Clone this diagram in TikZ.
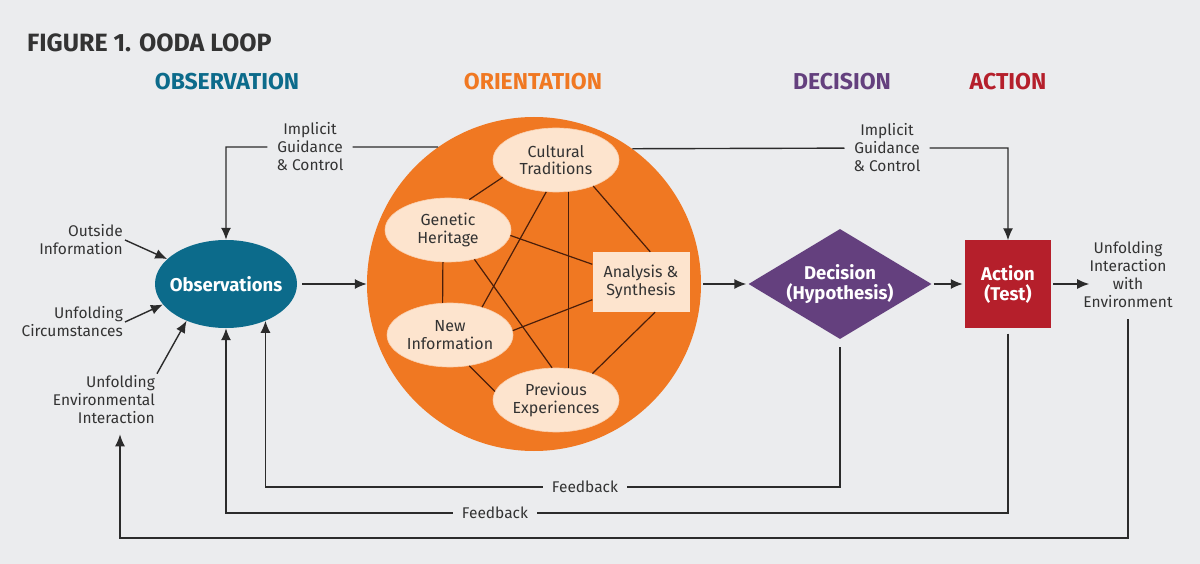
\documentclass[tikz,border=0pt]{standalone}
\usepackage{fontspec}
\setmainfont{Fira Sans}
\usetikzlibrary{shapes,arrows,positioning,calc,arrows.meta}

\definecolor{bggray}{HTML}{EBECEE}
\definecolor{txtgray}{HTML}{333333}
\definecolor{linegray}{HTML}{2B2B2B}
\definecolor{obsteal}{HTML}{0C6B8B}
\definecolor{ortorange}{HTML}{F07822}
\definecolor{peach}{HTML}{FDE4CE}
\definecolor{linkbrown}{HTML}{4A1E0A}
\definecolor{decpurple}{HTML}{64407E}
\definecolor{actred}{HTML}{B51F2B}

\begin{document}
\begin{tikzpicture}[x=1pt, y=-1pt,
    lbl/.style={align=center, text=txtgray, inner sep=2pt, font=\fontsize{15.5}{18}\selectfont},
    arr/.style={draw=linegray, line width=1.4pt, -{Latex[length=12pt,width=10pt]}},
    idea/.style={ellipse, fill=peach, draw=peach!80!ortorange, line width=0.6pt, minimum width=126pt, minimum height=64pt, inner sep=0pt, align=center, text=txtgray, font=\fontsize{16}{17.5}\selectfont},
    link/.style={draw=linkbrown, line width=1.2pt},
    head/.style={font=\fontsize{23}{23}\selectfont\bfseries, inner sep=0pt},
    keynode/.style={align=center, text=white, inner sep=0pt, font=\fontsize{18.5}{20}\selectfont\bfseries}
]
    % background and frame
    \fill[bggray] (0,0) rectangle (1200,564);

    % headings
    \node[head, anchor=west, text=txtgray, font=\fontsize{25}{25}\selectfont\bfseries] (title) at (27,43) {FIGURE 1. OODA LOOP};
    \node[head, text=obsteal] (hobs) at (227,82) {OBSERVATION};
    \node[head, text=ortorange] (hort) at (533,82) {ORIENTATION};
    \node[head, text=decpurple] (hdec) at (842,82) {DECISION};
    \node[head, text=actred] (hact) at (1008,82) {ACTION};

    % orientation circle with its parts
    \node[circle, fill=ortorange, minimum size=334pt, inner sep=0pt] (ort) at (534,284) {};
    \node[idea] (cult) at (556,160) {Cultural\\Traditions};
    \node[idea] (gen) at (448,230) {Genetic\\Heritage};
    \node[idea] (newinf) at (450,335) {New\\Information};
    \node[idea] (prev) at (556,400) {Previous\\Experiences};
    \node[rectangle, fill=peach, minimum width=97pt, minimum height=60pt, inner sep=0pt, align=center, text=txtgray, font=\fontsize{16}{17.5}\selectfont] (anl) at (641,282) {Analysis \&\\Synthesis};

    \draw[link] (cult.-162) -- (gen.55);
    \draw[link] (cult.-107) -- (newinf.41);
    \draw[link] (cult.-69) -- (prev.69);
    \draw[link] (cult.-35) -- (anl.73);
    \draw[link] (gen.-5) -- (anl.160);
    \draw[link] (gen.-99) -- (newinf.103);
    \draw[link] (gen.-48) -- (prev.97);
    \draw[link] (newinf.4) -- (anl.200);
    \draw[link] (newinf.-58) -- (prev.172);
    \draw[link] (prev.36) -- (anl.-65);

    % main chain
    \node[ellipse, fill=obsteal, minimum width=142pt, minimum height=88pt, keynode, inner xsep=-7pt] (obs) at (226,284) {Observations};
    \node[diamond, fill=decpurple, shape aspect=1.66, minimum width=183pt, minimum height=110pt, keynode] (dec) at (840,284) {Decision\\(Hypothesis)};
    \node[rectangle, fill=actred, minimum width=86pt, minimum height=87pt, keynode] (act) at (1008,284) {Action\\(Test)};

    \draw[arr, shorten <=5pt] (obs) -- (ort);
    \draw[arr, shorten <=2pt, shorten >=2pt] (ort) -- (dec);
    \draw[arr, shorten <=2pt, shorten >=2pt] (dec) -- (act);

    % outside inputs
    \node[lbl, align=right, anchor=east] (outside) at (125,240) {Outside\\Information};
    \node[lbl, align=right, anchor=east] (circ) at (125,322) {Unfolding\\Circumstances};
    \node[lbl, align=right, anchor=east] (env) at (157,400) {Unfolding\\Environmental\\Interaction};
    \node[lbl] (unfenv) at (1128,275) {Unfolding\\Interaction\\with\\Environment};

    \draw[arr] (outside.east) -- (obs.157);
    \draw[arr] (circ.east) -- (obs.-162);
    \draw[arr] (env.north east) -- (obs.-137);
    \draw[arr, shorten <=2pt, shorten >=-8pt] (act.east) -- (act.east -| unfenv.west);

    % implicit guidance and control
    \node[lbl, inner xsep=9pt] (igl) at (310,147) {Implicit\\Guidance\\\& Control};
    \node[lbl, inner xsep=9pt] (igr) at (887,148) {Implicit\\Guidance\\\& Control};
    \draw[arr] (ort.125.5) -- (igl) -| (obs.north);
    \draw[arr] (ort.54.5) -- (igr) -| (act.north);

    % feedback loops
    \node[lbl, inner xsep=9pt] (fbone) at (585,487) {Feedback};
    \node[lbl, inner xsep=9pt] (fbtwo) at (495,513) {Feedback};
    \coordinate (loopbot) at (600,538);
    \draw[arr] ([yshift=-8pt]dec.south) |- (fbone) -| (obs.-43);
    \draw[arr] ([yshift=-6pt]act.south) |- (fbtwo) -| (obs.south);
    \draw[arr] ([yshift=-9pt]unfenv.south) |- (loopbot) -| ([xshift=-37pt,yshift=-8pt]env.south east);
\end{tikzpicture}
\end{document}
